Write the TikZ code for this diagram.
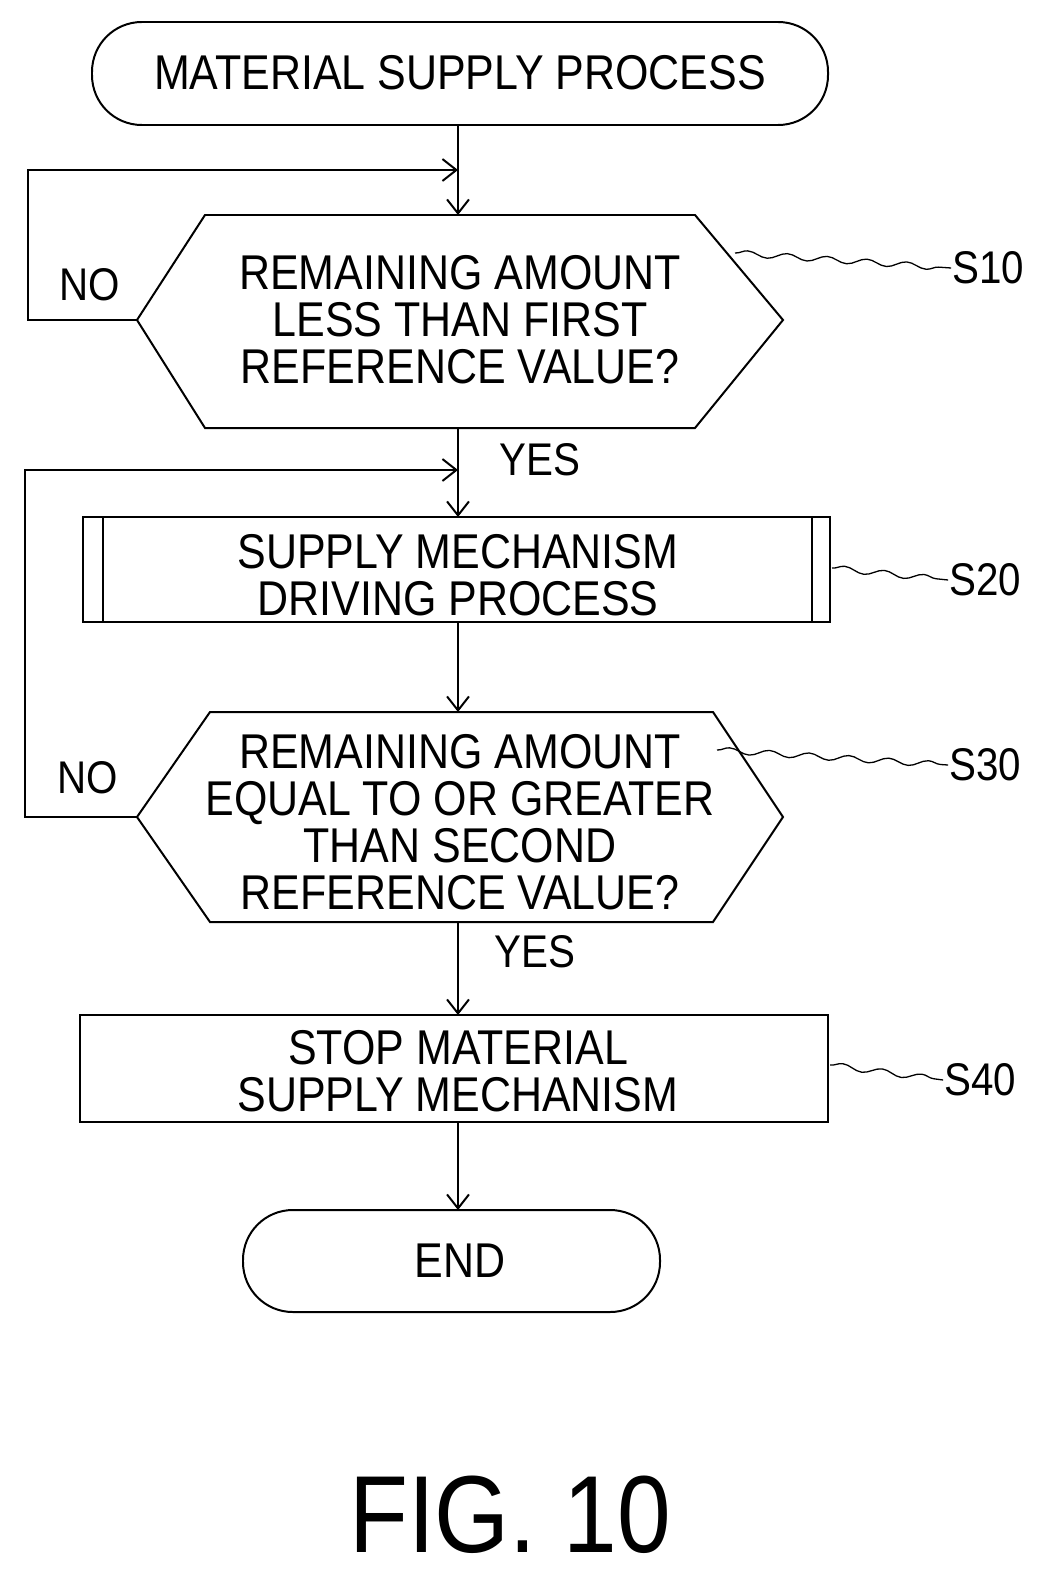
\documentclass[tikz,border=0pt]{standalone}
\usepackage{fontspec}
\setmainfont[FakeStretch=0.88]{Liberation Sans}
\usetikzlibrary{arrows.meta,decorations.pathmorphing}
\begin{document}
\begin{tikzpicture}[x=1bp,y=-1bp,
  line width=2pt,
  txt/.style={font=\fontsize{49}{47}\selectfont,align=center,inner sep=0pt},
  lab/.style={font=\fontsize{46}{46}\selectfont,inner sep=0pt},
  arr/.style={-{Straight Barb[length=14pt,width=22pt,line width=2pt]}},
  lead/.style={line width=1.3pt,decorate,decoration={snake,amplitude=3pt,segment length=40pt}}]
\useasboundingbox (0,0) rectangle (1062,1588);
% start
\draw[rounded corners=50pt] (92,22) rectangle (828,125);
\node[txt] (start) at (460,73) {MATERIAL SUPPLY PROCESS};
\coordinate (startb) at (458,125);
% S10
\draw (137,320) -- (205,215) -- (695,215) -- (783,320) -- (695,428) -- (205,428) -- cycle;
\node[txt] (s10) at (460,320) {REMAINING AMOUNT\\LESS THAN FIRST\\REFERENCE VALUE?};
\coordinate (s10t) at (458,215); \coordinate (s10b) at (458,428); \coordinate (s10l) at (137,320);
\coordinate (s10r) at (735,253);
% S20
\draw (83,517) rectangle (830,622); \draw (103,517) -- (103,622); \draw (812,517) -- (812,622);
\node[txt] (s20) at (458,575) {SUPPLY MECHANISM\\DRIVING PROCESS};
\coordinate (s20t) at (458,517); \coordinate (s20b) at (458,622); \coordinate (s20r) at (832,568);
% S30
\draw (137,817) -- (210,712) -- (713,712) -- (783,817) -- (713,922) -- (210,922) -- cycle;
\node[txt] (s30) at (460,822) {REMAINING AMOUNT\\EQUAL TO OR GREATER\\THAN SECOND\\REFERENCE VALUE?};
\coordinate (s30t) at (458,712); \coordinate (s30b) at (458,922); \coordinate (s30l) at (137,817);
\coordinate (s30r) at (717,750);
% S40
\draw (80,1015) rectangle (828,1122);
\node[txt] (s40) at (458,1071) {STOP MATERIAL\\SUPPLY MECHANISM};
\coordinate (s40t) at (458,1015); \coordinate (s40b) at (458,1122); \coordinate (s40r) at (830,1065);
% end
\draw[rounded corners=50pt] (243,1210) rectangle (660,1312);
\node[txt] (endn) at (460,1261) {END};
\coordinate (endt) at (458,1210);
% connectors
\draw[arr] (startb) -- (s10t);
\draw[arr] (s10b) -- (s20t);
\draw[arr] (s20b) -- (s30t);
\draw[arr] (s30b) -- (s40t);
\draw[arr] (s40b) -- (endt);
\coordinate (j1) at (458,170); \coordinate (j2) at (458,470);
\draw[arr] (s10l) -- (28,320) -- (28,170) -- (j1);
\draw[arr] (s30l) -- (25,817) -- (25,470) -- (j2);
\node[lab] (no1) at (90,285) {NO};
\node[lab] (no2) at (88,778) {NO};
\node[lab] (yes1) at (540,460) {YES};
\node[lab] (yes2) at (535,952) {YES};
% step labels
\node[lab] (l10) at (988,268) {S10};
\node[lab] (l20) at (985,580) {S20};
\node[lab] (l30) at (985,765) {S30};
\node[lab] (l40) at (980,1080) {S40};
\draw[lead] (s10r) -- (l10.west);
\draw[lead] (s20r) -- (l20.west);
\draw[lead] (s30r) -- (l30.west);
\draw[lead] (s40r) -- (l40.west);
\node[font=\fontsize{110}{110}\selectfont,inner sep=0pt] (fig) at (510,1515) {FIG. 10};
\end{tikzpicture}
\end{document}
